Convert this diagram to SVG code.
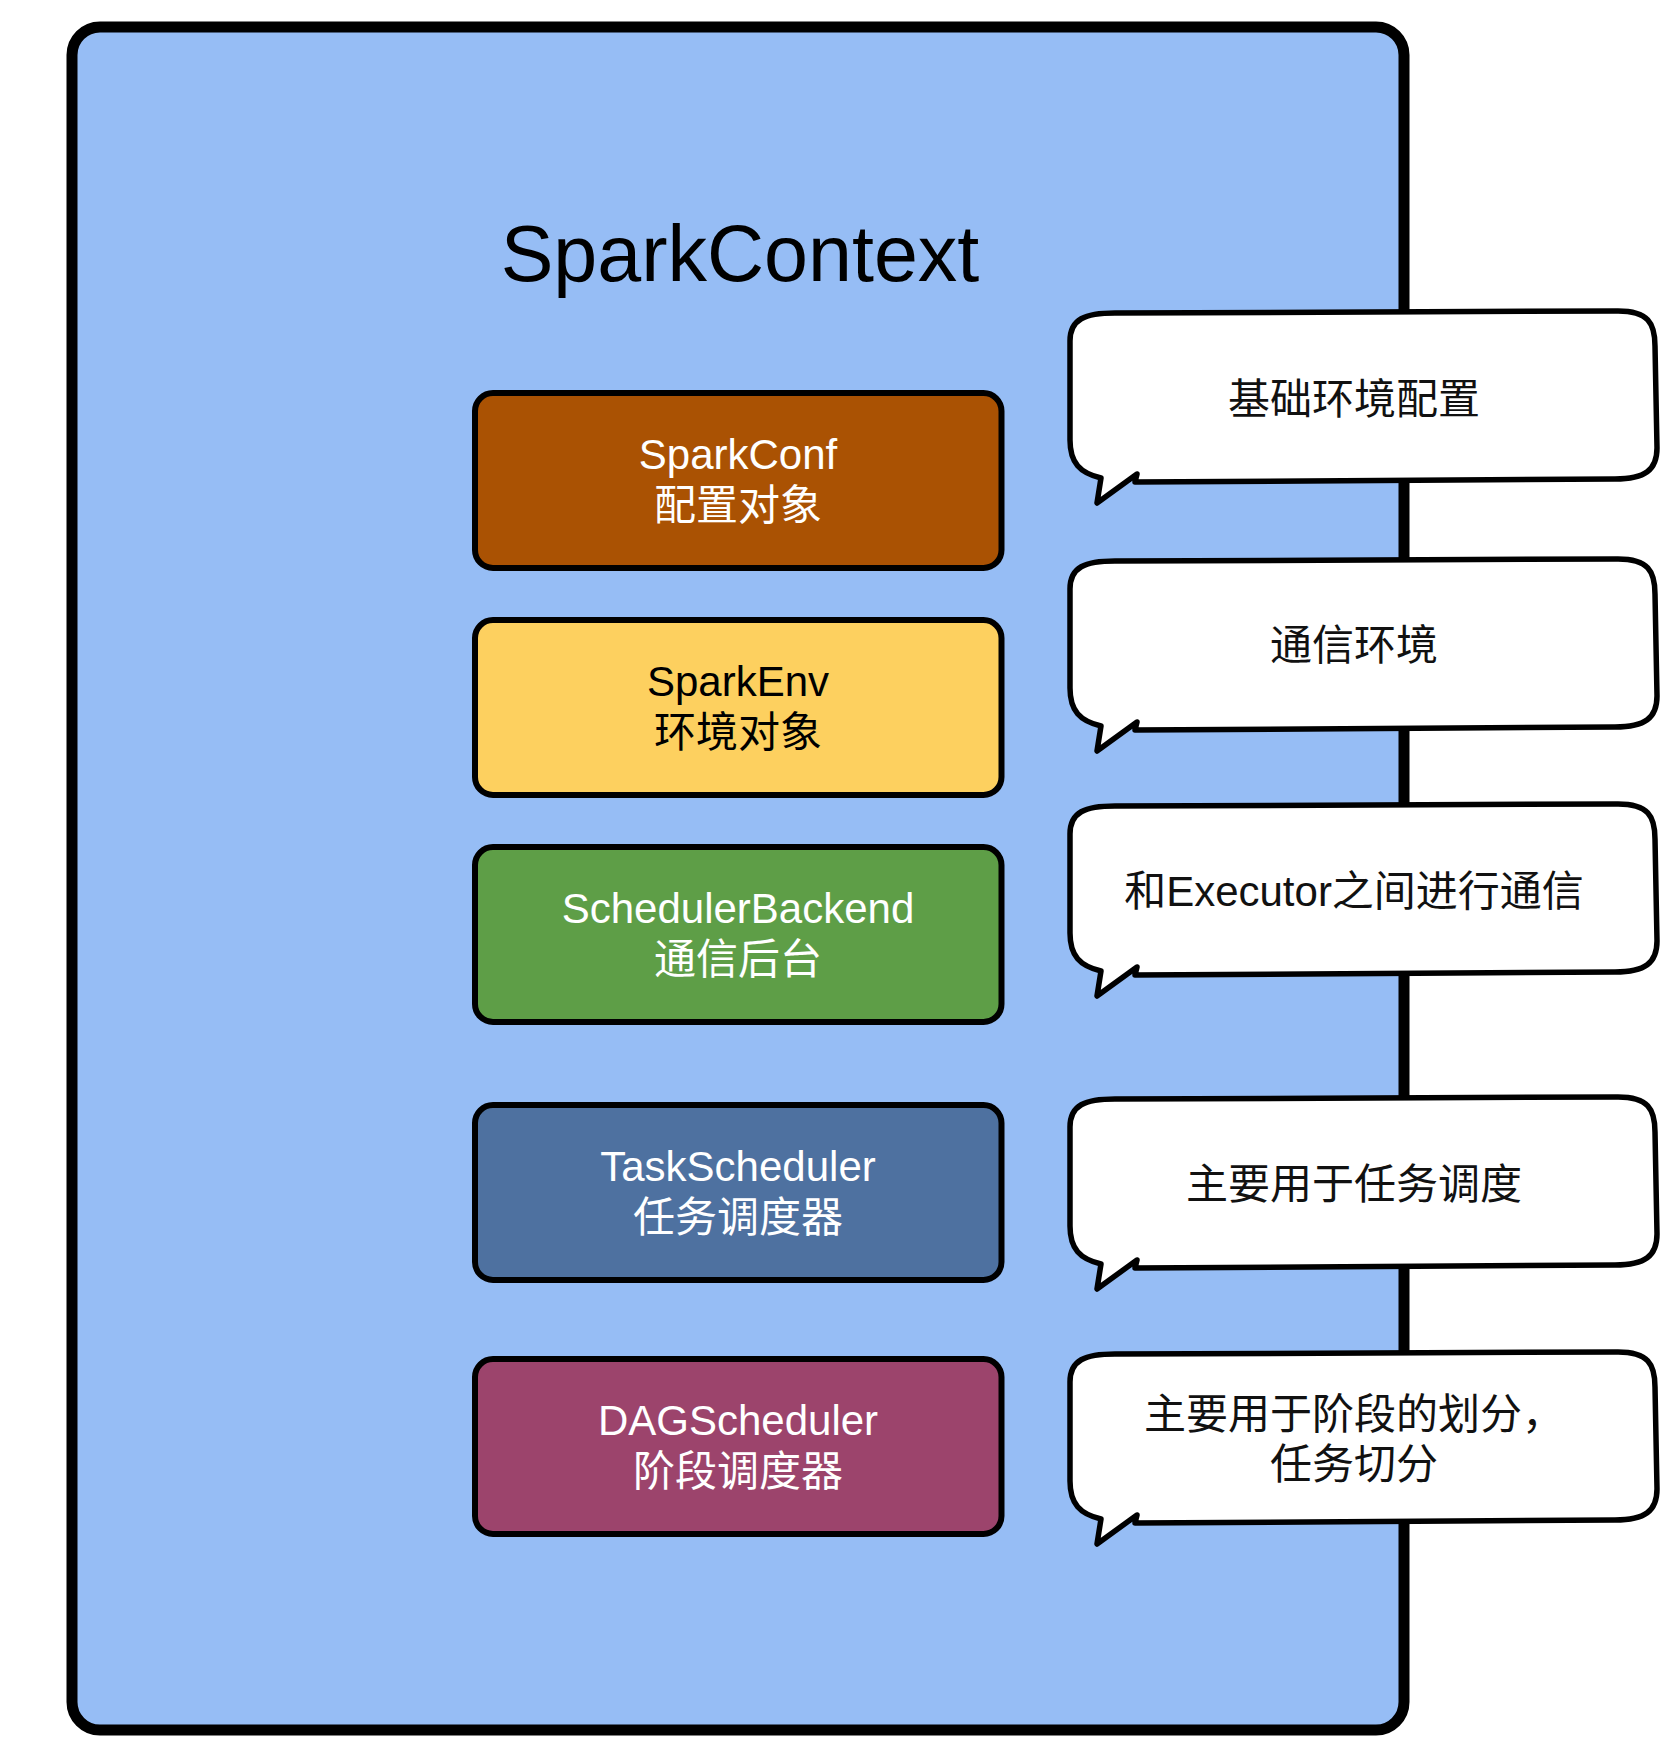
<svg xmlns="http://www.w3.org/2000/svg" width="1678" height="1752" viewBox="0 0 1678 1752">
<style>
.latin{font-family:"Liberation Sans","Noto Sans CJK SC",sans-serif;}
.box{stroke:#000;stroke-width:6;}
.lbl{font-size:42px;text-anchor:middle;}
.white{fill:#fff;}
.dark{fill:#000;}
.callout{fill:#fff;stroke:#000;stroke-width:5.5;stroke-linejoin:round;}
.ctext{font-size:42px;text-anchor:middle;fill:#111;font-family:"Liberation Sans","Noto Sans CJK SC",sans-serif;}
</style>
<rect width="1678" height="1752" fill="#fff"/>
<g id="sparkcontext">
<rect x="72" y="27" width="1332" height="1703" rx="28" fill="#96BDF5" stroke="#000" stroke-width="11"/>
<text x="740" y="281" class="latin" font-size="79" text-anchor="middle" fill="#000">SparkContext</text>
</g>
<g id="sparkconf">
<rect class="box" x="475" y="393" width="526.5" height="175" rx="18" fill="#AA5203"/>
<text class="latin lbl white" x="738" y="469">SparkConf</text>
<text class="latin lbl white" x="738" y="520">配置对象</text>
</g>
<g id="sparkenv">
<rect class="box" x="475" y="620" width="526.5" height="175" rx="18" fill="#FDD05F"/>
<text class="latin lbl dark" x="738" y="696">SparkEnv</text>
<text class="latin lbl dark" x="738" y="747">环境对象</text>
</g>
<g id="schedulerbackend">
<rect class="box" x="475" y="847" width="526.5" height="175" rx="18" fill="#5E9E47"/>
<text class="latin lbl white" x="738" y="923">SchedulerBackend</text>
<text class="latin lbl white" x="738" y="974">通信后台</text>
</g>
<g id="taskscheduler">
<rect class="box" x="475" y="1105" width="526.5" height="175" rx="18" fill="#4E71A0"/>
<text class="latin lbl white" x="738" y="1181">TaskScheduler</text>
<text class="latin lbl white" x="738" y="1232">任务调度器</text>
</g>
<g id="dagscheduler">
<rect class="box" x="475" y="1359" width="526.5" height="175" rx="18" fill="#9C446C"/>
<text class="latin lbl white" x="738" y="1435">DAGScheduler</text>
<text class="latin lbl white" x="738" y="1486">阶段调度器</text>
</g>
<g id="connectors"></g>
<g id="note1">
<path class="callout" d="M1070,341 C1070,319 1085,313 1115,313 L1618,311 C1648,311 1655,323 1655,346 L1657,448 C1657,470 1645,479 1615,479 L1135,482 L1137,474 L1097,503 L1101,478 C1080,473 1070,463 1070,440 Z"/>
<text class="ctext" x="1354" y="414">基础环境配置</text>
</g>
<g id="note2">
<path class="callout" d="M1070,589 C1070,567 1085,561 1115,561 L1618,559 C1648,559 1655,571 1655,594 L1657,696 C1657,718 1645,727 1615,727 L1135,730 L1137,722 L1097,751 L1101,726 C1080,721 1070,711 1070,688 Z"/>
<text class="ctext" x="1354" y="660">通信环境</text>
</g>
<g id="note3">
<path class="callout" d="M1070,834 C1070,812 1085,806 1115,806 L1618,804 C1648,804 1655,816 1655,839 L1657,941 C1657,963 1645,972 1615,972 L1135,975 L1137,967 L1097,996 L1101,971 C1080,966 1070,956 1070,933 Z"/>
<text class="ctext" x="1354" y="906">和Executor之间进行通信</text>
</g>
<g id="note4">
<path class="callout" d="M1070,1127 C1070,1105 1085,1099 1115,1099 L1618,1097 C1648,1097 1655,1109 1655,1132 L1657,1234 C1657,1256 1645,1265 1615,1265 L1135,1268 L1137,1260 L1097,1289 L1101,1264 C1080,1259 1070,1249 1070,1226 Z"/>
<text class="ctext" x="1354" y="1199">主要用于任务调度</text>
</g>
<g id="note5">
<path class="callout" d="M1070,1382 C1070,1360 1085,1354 1115,1354 L1618,1352 C1648,1352 1655,1364 1655,1387 L1657,1489 C1657,1511 1645,1520 1615,1520 L1135,1523 L1137,1515 L1097,1544 L1101,1519 C1080,1514 1070,1504 1070,1481 Z"/>
<text class="ctext" x="1354" y="1429">主要用于阶段的划分，</text>
<text class="ctext" x="1354" y="1479">任务切分</text>
</g>
</svg>
